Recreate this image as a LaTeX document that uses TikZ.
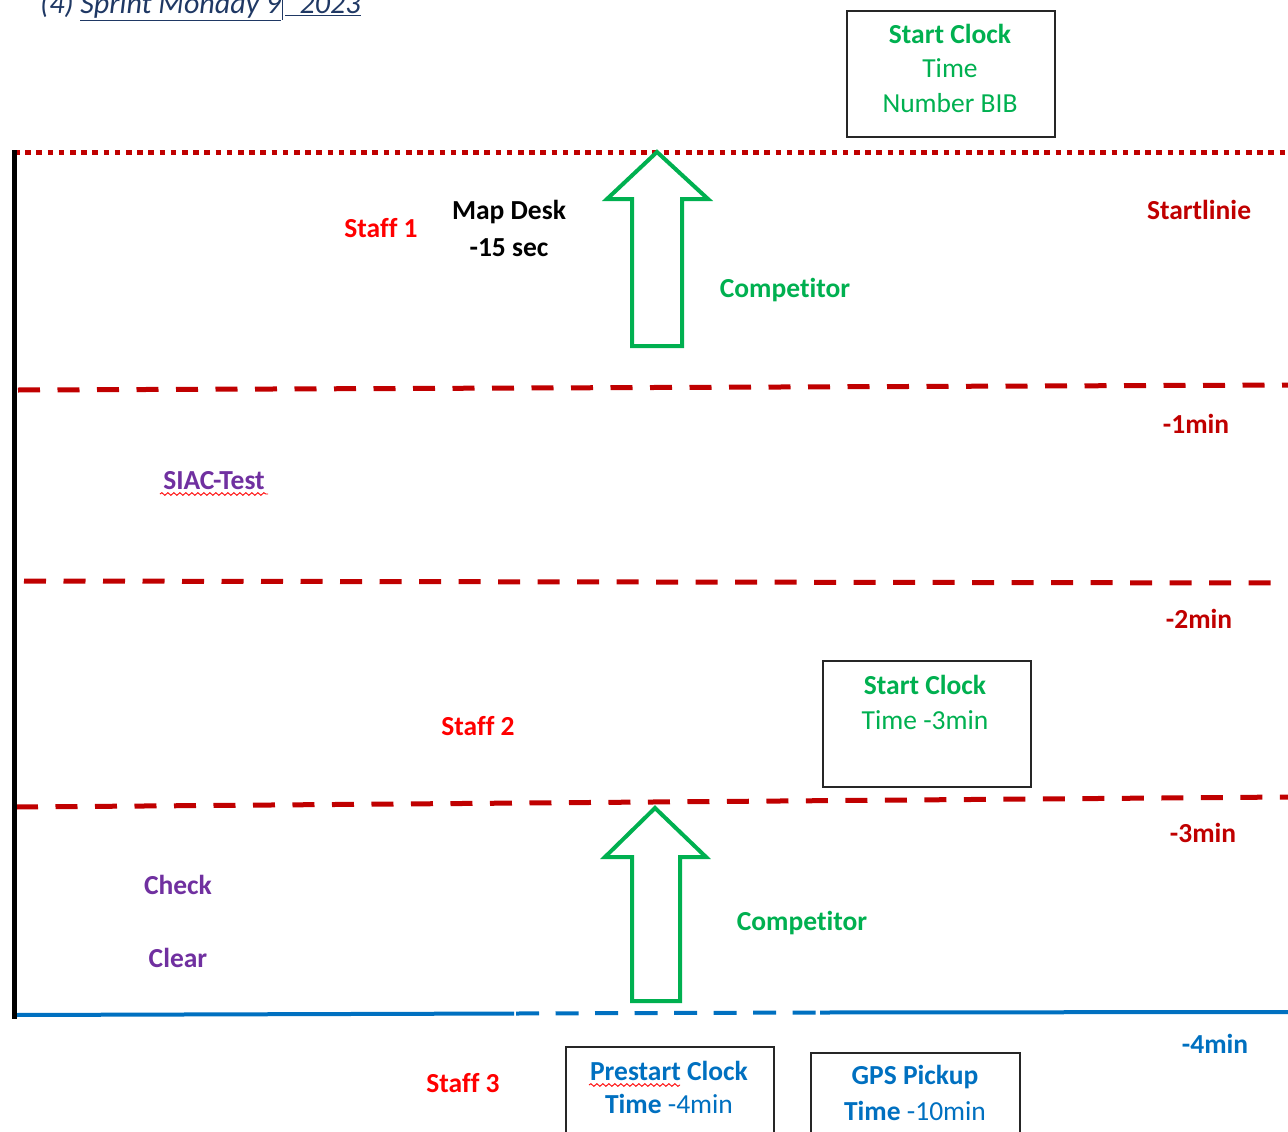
\documentclass[tikz,border=0pt]{standalone}
\usepackage{fontspec}
\setmainfont{Carlito}[Ligatures={NoCommon}]
\usetikzlibrary{decorations.pathmorphing}
\definecolor{dred}{HTML}{C00000}
\definecolor{bred}{HTML}{FF0000}
\definecolor{grn}{HTML}{00B050}
\definecolor{blu}{HTML}{0070C0}
\definecolor{purp}{HTML}{7030A0}
\definecolor{ttl}{HTML}{1F3864}
\begin{document}
\begin{tikzpicture}[x=1pt,y=-1pt,
  lbl/.style={font=\fontsize{27.5}{35}\selectfont, inner sep=0pt, align=center},
  blbl/.style={lbl, font=\fontsize{27.5}{35}\selectfont\bfseries},
  infobox/.style={draw=black!85, line width=1.8pt},
  redash/.style={draw=dred, line width=5pt, dash pattern=on 22pt off 17.5pt},
  bluline/.style={draw=blu, line width=4pt},
  bludash/.style={draw=blu, line width=4pt, dash pattern=on 23pt off 16.5pt},
  bigarrow/.style={draw=grn, line width=4pt, line join=miter, fill=white},
  wavy/.style={draw=bred, line width=0.9pt, decorate, decoration={snake, amplitude=1.3pt, segment length=6pt}}
]
\useasboundingbox (0,0) rectangle (1288,1132);
\clip (0,0) rectangle (1288,1132);

% title
\node[lbl, anchor=base west, text=ttl, font=\fontsize{30}{35}\selectfont\itshape] (title) at (40,14)
  {(4) \underline{Sprint Monday 9}\kern1pt\rule[-6pt]{1.2pt}{24pt}\kern2pt\underline{' 2023}};

% coordinates for the lines
\coordinate (vtop) at (14,150);
\coordinate (vbot) at (14,1019);
\coordinate (sl) at (14,152);
\coordinate (sr) at (1288,152);
\coordinate (m1l) at (18,390);
\coordinate (m1r) at (1288,385);
\coordinate (m2l) at (24,581);
\coordinate (m2r) at (1288,583);
\coordinate (m3l) at (16,807);
\coordinate (m3r) at (1288,797);
\coordinate (b0) at (14,1015);
\coordinate (b1) at (514,1013.5);
\coordinate (b2) at (818,1012.5);
\coordinate (b3) at (1288,1012);

% start line (dotted)
\draw[dred, line width=5pt, dash pattern=on 5.5pt off 5.7pt] (sl) -- (sr);
% minute lines
\draw[redash] (m1l) -- (m1r);
\draw[redash] (m2l) -- (m2r);
\draw[redash] (m3l) -- (m3r);
% prestart line
\draw[bluline] (b0) -- (b1);
\draw[bludash] ([xshift=2pt]b1) -- (b2);
\draw[bluline] ([xshift=2pt]b2) -- (b3);
% left border
\draw[black, line width=5pt] (vtop) -- (vbot);

% arrows
\draw[bigarrow] (657,152) -- (708,199) -- (682,199) -- (682,346) -- (632,346) -- (632,199) -- (607,199) -- cycle;
\draw[bigarrow] (655,808) -- (706,857) -- (680,857) -- (680,1001) -- (632,1001) -- (632,857) -- (605,857) -- cycle;

% top box
\node[infobox, minimum width=208pt, minimum height=126pt, anchor=north west] (box1) at (846,10) {};
\node[blbl, text=grn] (sc1) at (950,34) {Start Clock};
\node[lbl, text=grn] (t1) at (950,68) {Time};
\node[lbl, text=grn] (nb1) at (950,103) {Number BIB};

% second box
\node[infobox, minimum width=208pt, minimum height=126pt, anchor=north west] (box2) at (822,660) {};
\node[blbl, text=grn] (sc2) at (925,685) {Start Clock};
\node[lbl, text=grn] (t2) at (925,720) {Time -3min};

% bottom boxes
\node[infobox, minimum width=208pt, minimum height=120pt, anchor=north west] (box3) at (565,1046) {};
\node[lbl, text=blu] (pc) at (669,1071) {\textbf{Prestart Clock}};
\node[lbl, text=blu] (t3) at (669,1104) {\textbf{Time} -4min};
\node[infobox, minimum width=209pt, minimum height=120pt, anchor=north west] (box4) at (810,1052) {};
\node[lbl, text=blu] (gps) at (915,1077) {\textbf{GPS Pickup}};
\node[lbl, text=blu] (t4) at (915,1111) {\textbf{Time} -10min};
\draw[wavy] (589,1085) -- (680,1085);

% labels
\node[blbl, text=bred] (staff1) at (381,228) {Staff 1};
\node[blbl, text=black] (md) at (509,212) {Map Desk};
\node[blbl, text=black] (sec) at (509,248) {-15 sec};
\node[blbl, text=grn] (comp1) at (785,290) {Competitor};
\node[blbl, text=dred] (startl) at (1199,210) {Startlinie};
\node[blbl, text=dred] (min1) at (1196,424) {-1min};
\node[blbl, text=purp] (siac) at (214,481) {SIAC-Test};
\draw[wavy] (160,494) -- (268,494);
\node[blbl, text=dred] (min2) at (1199,619) {-2min};
\node[blbl, text=bred] (staff2) at (478,726) {Staff 2};
\node[blbl, text=dred] (min3) at (1203,833) {-3min};
\node[blbl, text=grn] (comp2) at (802,923) {Competitor};
\node[blbl, text=purp] (check) at (178,885) {Check};
\node[blbl, text=purp] (clear) at (178,958) {Clear};
\node[blbl, text=bred] (staff3) at (463,1083) {Staff 3};
\node[blbl, text=blu] (min4) at (1215,1044) {-4min};
\end{tikzpicture}
\end{document}
